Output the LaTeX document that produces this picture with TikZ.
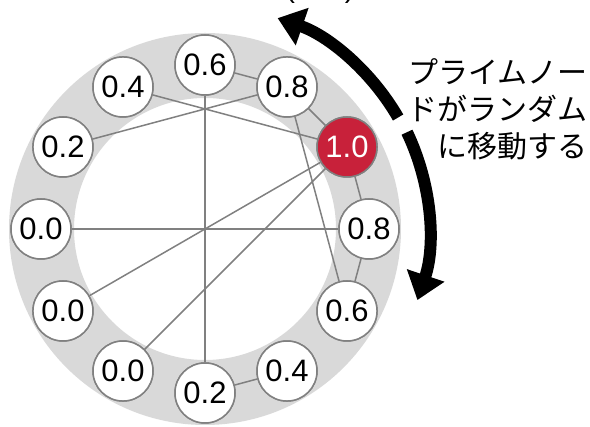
\documentclass[tikz,border=0pt]{standalone}
\usepackage{fontspec}
\setmainfont{Liberation Sans}
\newfontfamily\jpfont{Noto Sans CJK JP}
\usetikzlibrary{arrows.meta}
\definecolor{ringgray}{HTML}{D9D9D9}
\definecolor{edgegray}{HTML}{808080}
\definecolor{primered}{HTML}{C8213A}
\tikzset{
  ringnode/.style={circle, draw=edgegray, line width=1.5pt, fill=white, minimum size=60pt, inner sep=0pt, font=\fontsize{31}{31}\selectfont},
  primenode/.style={ringnode, fill=primered, text=white},
  link/.style={draw=edgegray, line width=1.5pt},
  movearrow/.style={line width=12pt, -{Triangle[width=38pt,length=26pt]}},
  jptext/.style={anchor=base east, inner sep=0pt, font=\jpfont\fontsize{30}{37}\selectfont}
}
\begin{document}
\begin{tikzpicture}[x=1pt,y=1pt]
\useasboundingbox (0,0) rectangle (590,427);
\coordinate (c) at (205,198);
% ring
\fill[ringgray, even odd rule] (c) circle[radius=196] (c) circle[radius=131];
% nodes
\node[ringnode]  (n0)   at ([shift={(0:164)}]c)   {0.8};
\node[primenode] (n30)  at ([shift={(30:164)}]c)  {1.0};
\node[ringnode]  (n60)  at ([shift={(60:164)}]c)  {0.8};
\node[ringnode]  (n90)  at ([shift={(90:164)}]c)  {0.6};
\node[ringnode]  (n120) at ([shift={(120:164)}]c) {0.4};
\node[ringnode]  (n150) at ([shift={(150:164)}]c) {0.2};
\node[ringnode]  (n180) at ([shift={(180:164)}]c) {0.0};
\node[ringnode]  (n210) at ([shift={(210:164)}]c) {0.0};
\node[ringnode]  (n240) at ([shift={(240:164)}]c) {0.0};
\node[ringnode]  (n270) at ([shift={(270:164)}]c) {0.2};
\node[ringnode]  (n300) at ([shift={(300:164)}]c) {0.4};
\node[ringnode]  (n330) at ([shift={(330:164)}]c) {0.6};
% links
\path[link] (n90) -- (n60);
\path[link] (n120) -- (n30);
\path[link] (n150) -- (n60);
\path[link] (n90) -- (n270);
\path[link] (n180) -- (n0);
\path[link] (n210) -- (n30);
\path[link] (n240) -- (n30);
\path[link] (n270) -- (n300);
\path[link] (n0) -- (n330);
\path[link] (n0) -- (n30);
\path[link] (n330) -- (n60);
\path[link] (n60) -- (n30);
% redraw nodes on top of links
\node[ringnode]  at (n0)   {0.8};
\node[primenode] at (n30)  {1.0};
\node[ringnode]  at (n60)  {0.8};
\node[ringnode]  at (n90)  {0.6};
\node[ringnode]  at (n120) {0.4};
\node[ringnode]  at (n150) {0.2};
\node[ringnode]  at (n180) {0.0};
\node[ringnode]  at (n210) {0.0};
\node[ringnode]  at (n240) {0.0};
\node[ringnode]  at (n270) {0.2};
\node[ringnode]  at (n300) {0.4};
\node[ringnode]  at (n330) {0.6};
% arrows
\coordinate (a1) at ([shift={(30:223)}]c);
\coordinate (a2) at ([shift={(25.6:224)}]c);
\draw[movearrow] (a1) arc[start angle=30, end angle=71, radius=223];
\draw[movearrow] (a2) arc[start angle=25.6, end angle=-18.5, radius=224];
% text
\node[jptext] (t1) at (588,343) {プライムノー};
\node[jptext] (t2) at (588,306) {ドがランダム};
\node[jptext] (t3) at (588,269) {に移動する};
\node[anchor=base, inner sep=0pt, font=\fontsize{29}{29}\selectfont] (top) at (320,429) {(\hspace{50pt})};
\end{tikzpicture}
\end{document}
